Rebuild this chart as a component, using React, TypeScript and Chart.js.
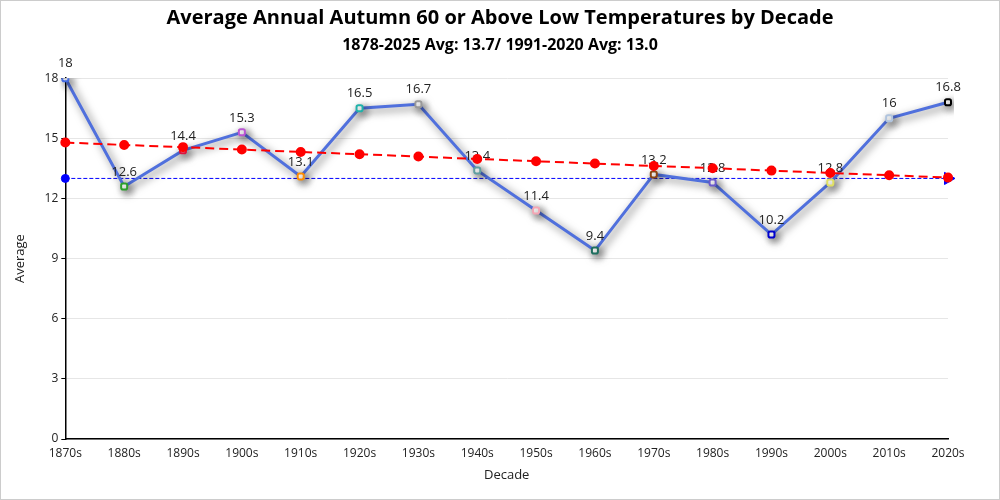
import React, { useEffect, useRef } from "react";
import { Chart, registerables } from "chart.js";

Chart.register(...registerables);

const decades = ["1870s", "1880s", "1890s", "1900s", "1910s", "1920s", "1930s", "1940s", "1950s", "1960s", "1970s", "1980s", "1990s", "2000s", "2010s", "2020s"];
const averages = [18, 12.6, 14.4, 15.3, 13.1, 16.5, 16.7, 13.4, 11.4, 9.4, 13.2, 12.8, 10.2, 12.8, 16, 16.8];
const trend = [14.79, 14.67, 14.56, 14.44, 14.32, 14.21, 14.09, 13.97, 13.86, 13.74, 13.62, 13.51, 13.39, 13.27, 13.16, 13.04];
const normal = [13, 13, 13, 13, 13, 13, 13, 13, 13, 13, 13, 13, 13, 13, 13, 13];
const pointColors = ["#4169e1", "#2ca02c", "#dc143c", "#ba55d3", "#ff8c00", "#20b2aa", "#999999", "#5f9ea0", "#f4a6b4", "#1f6f5f", "#8b4513", "#6a5acd", "#0000cd", "#e0e060", "#b0c4de", "#000000"];
const titleText = "Average Annual Autumn 60 or Above Low Temperatures by Decade";
const subtitleText = "1878-2025 Avg: 13.7/ 1991-2020 Avg: 13.0";

const FONT = "'Open Sans', 'Noto Sans', sans-serif";

export default function App() {
  const ref = useRef<HTMLCanvasElement | null>(null);
  useEffect(() => {
    document.body.style.margin = "0";
    const shadowPlugin = {
      id: "shadowAndLabels",
      beforeDatasetDraw(chart: any, args: any) {
        if (args.index === 0) {
          const ctx = chart.ctx;
          ctx.save();
          ctx.shadowColor = "rgba(0,0,0,0.6)";
          ctx.shadowBlur = 9;
          ctx.shadowOffsetX = 3;
          ctx.shadowOffsetY = 3;
        }
      },
      afterDatasetDraw(chart: any, args: any) {
        if (args.index === 0) {
          const ctx = chart.ctx;
          ctx.restore();
          ctx.save();
          ctx.font = `13px ${FONT}`;
          ctx.fillStyle = "#222";
          ctx.textAlign = "center";
          ctx.textBaseline = "bottom";
          const meta = chart.getDatasetMeta(0);
          meta.data.forEach((pt: any, i: number) => {
            ctx.fillText(String(averages[i]), pt.x, pt.y - 8);
          });
          ctx.restore();
        }
      },
    };
    const chart = new Chart(ref.current as HTMLCanvasElement, {
      type: "line",
      data: {
        labels: decades,
        datasets: [
          {
            label: "Average",
            data: averages,
            borderColor: "#5070dd",
            borderWidth: 3,
            pointBackgroundColor: "#ffffff",
            pointBorderColor: pointColors,
            pointBorderWidth: 2,
            pointRadius: 3.5,
            pointStyle: "rectRounded",
            tension: 0,
            order: 2,
          },
          {
            label: "Trend",
            data: trend,
            borderColor: "#ff0000",
            borderWidth: 2,
            borderDash: [9, 5],
            pointBackgroundColor: "#ff0000",
            pointBorderColor: "#ff0000",
            pointRadius: 4,
            tension: 0,
            order: 1,
          },
          {
            label: "1991-2020 Avg",
            data: normal,
            borderColor: "#0000ff",
            borderWidth: 1,
            borderDash: [4, 2],
            pointBackgroundColor: "#0000ff",
            pointBorderColor: "#0000ff",
            pointRadius: normal.map((_, i) => (i === 0 ? 4 : i === normal.length - 1 ? 7 : 0)),
            pointStyle: normal.map((_, i) => (i === normal.length - 1 ? "triangle" : "circle")) as any,
            rotation: normal.map((_, i) => (i === normal.length - 1 ? 90 : 0)),
            tension: 0,
            order: 3,
          },
        ],
      },
      options: {
        responsive: true,
        maintainAspectRatio: false,
        animation: false,
        layout: { padding: { left: 7, right: 7, top: 0, bottom: 12 } },
        plugins: {
          legend: { display: false },
          tooltip: { enabled: false },
          title: {
            display: true,
            text: titleText,
            color: "#000",
            font: { family: FONT, size: 20, weight: "bold" },
            padding: { top: 5, bottom: 6 },
          },
          subtitle: {
            display: true,
            text: subtitleText,
            color: "#000",
            font: { family: FONT, size: 16, weight: "bold" },
            padding: { top: 0, bottom: 23 },
          },
        },
        scales: {
          x: {
            offset: false,
            grid: { display: false, drawTicks: true, tickLength: 4 },
            border: { display: true, color: "#000", width: 1.5 },
            ticks: { color: "#222", font: { family: FONT, size: 12 }, maxRotation: 0, autoSkip: false },
            title: { display: true, text: "Decade", color: "#222", font: { family: FONT, size: 13 } },
            afterFit(scale: any) {
              scale.paddingRight = 51;
            },
          },
          y: {
            min: 0,
            max: 18,
            ticks: { stepSize: 3, color: "#222", font: { family: FONT, size: 12 } },
            grid: { color: "#e6e6e6", tickColor: "#000", tickLength: 4 },
            border: { display: true, color: "#000", width: 1.5 },
            title: { display: true, text: "Average", color: "#222", font: { family: FONT, size: 13 }, padding: { top: 4, bottom: 14 } },
          },
        },
      },
      plugins: [shadowPlugin],
    });
    return () => chart.destroy();
  }, []);
  return (
    <div style={{ width: 1000, height: 500, boxSizing: "border-box", border: "1px solid #cccccc", background: "#fff" }}>
      <div style={{ position: "relative", width: 998, height: 498 }}>
        <canvas ref={ref} />
      </div>
    </div>
  );
}
